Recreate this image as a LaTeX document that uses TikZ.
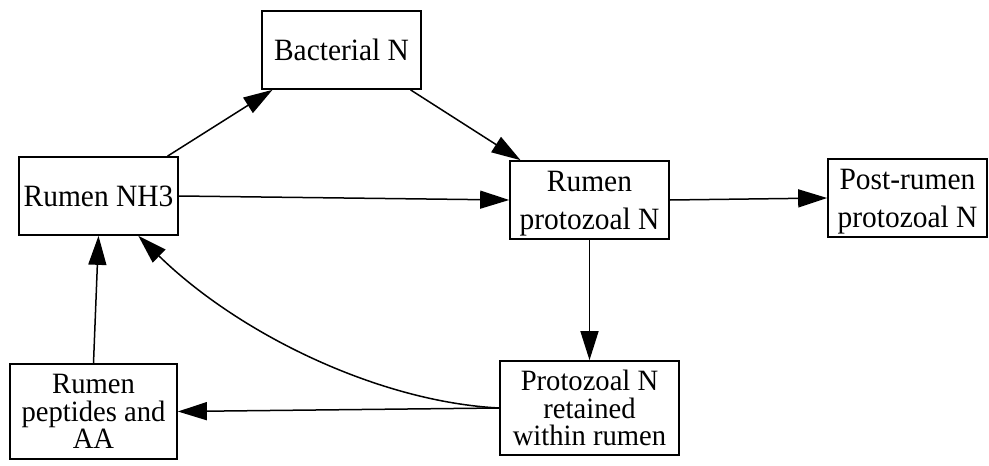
\documentclass[tikz,border=0pt]{standalone}
\usepackage{fontspec}
\setmainfont{Liberation Serif}
\newfontfamily\labelfont[FakeStretch=0.95]{Liberation Serif}
\newfontfamily\smalllabelfont[FakeStretch=0.97]{Liberation Serif}
\usetikzlibrary{arrows.meta,calc}
\begin{document}
\begin{tikzpicture}[x=1pt,y=-1pt,
  box/.style={draw, line width=1.7pt, rectangle, inner sep=0pt, align=center,
    minimum width=159pt, minimum height=78pt,
    font=\labelfont\fontsize{31}{38}\selectfont},
  tallbox/.style={box, font=\smalllabelfont\fontsize{29.5}{27.5}\selectfont},
  flow/.style={line width=1.5pt, -{Triangle[length=29pt,width=18pt]}}
]
\useasboundingbox (0,0) rectangle (989,466);

% compartments
\node[box] (bact) at (341.5,50) {Bacterial N};
\node[box] (nh3)  at (98.5,196) {Rumen NH3};
\node[box, text depth=0pt] (proto) at (589.5,200) {Rumen\\protozoal N};
\node[box, text depth=0pt] (post)  at (907.5,198) {Post-rumen\\protozoal N};
\node[tallbox, minimum width=167pt, minimum height=95pt] (pept) at (93.5,411.5) {Rumen\\peptides and\\AA};
\node[tallbox, minimum width=179pt, minimum height=94pt] (ret) at (589.5,408) {Protozoal N\\retained\\within rumen};

% nitrogen flows
\draw[flow] (nh3.30) -- (bact.210);
\draw[flow] (bact.-30) -- (proto.150);
\draw[flow] (nh3.east) -- (proto.west);
\draw[flow] (proto.east) -- (post.west);
\draw[flow] (proto.south) -- (ret.north);
\draw[flow] (ret.west) -- (pept.east);
\draw[flow] (pept.north) -- (nh3.south);
\draw[flow] (ret.west) .. controls (380,402) and (240,335) .. (nh3.-45);
\end{tikzpicture}
\end{document}
